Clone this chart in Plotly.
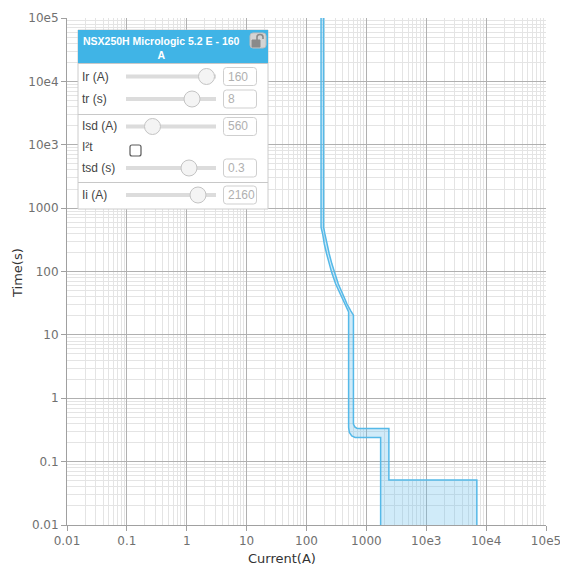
import plotly.graph_objects as go

# trip curve: lower-left (min) and upper-right (max) bounds
min_current = [175, 175, 186, 198, 217, 240, 263, 307, 363, 435, 495, 505,
               505, 520, 570, 648, 1730, 1730]
min_time = [1e6, 500, 391, 272, 189, 131, 97, 63.5, 44.2, 30.7, 24.0, 23.0,
            0.346, 0.288, 0.255, 0.24, 0.24, 0.01]

max_current = [193, 193, 203, 219, 240, 266, 291, 340, 403, 475, 549, 584, 608,
               608, 641, 692, 765, 2376, 2376, 70000, 70000]
max_time = [1e6, 500, 391, 272, 189, 131, 97, 63.5, 44.2, 30.7, 24.0, 21.3, 20.5,
            0.39, 0.353, 0.337, 0.333, 0.333, 0.0514, 0.0514, 0.01]

decades = [-2, -1, 0, 1, 2, 3, 4, 5, 6]
tick_labels = ["0.01", "0.1", "1", "10", "100", "1000", "10e3", "10e4", "10e5"]

panel_title = "NSX250H Micrologic 5.2 E - 160<br>A"
setting_names = ["Ir (A)", "tr (s)", "Isd (A)", "tsd (s)", "Ii (A)"]
setting_values = ["160", "8", "560", "0.3", "2160"]

# page has an 8px body margin, so everything is drawn 8px in from the corner
OFF = 8
# plot area in window pixels
L, T, W, H = 67, 18, 479, 507
LINE = "rgb(85,185,232)"
FILL = "rgba(100,190,235,0.3)"


def px(x):
    return (x - L) / W


def py(y):
    return (T + H - y) / H


tickvals = [10 ** d for d in decades]
minor_vals = [k * 10 ** d for d in decades[:-1] for k in range(2, 10)]

fig = go.Figure()
fig.add_trace(go.Scatter(
    x=min_current + max_current[::-1], y=min_time + max_time[::-1],
    fill="toself", fillcolor=FILL, line=dict(width=0),
    mode="lines", hoverinfo="skip", showlegend=False))
fig.add_trace(go.Scatter(x=min_current, y=min_time, mode="lines",
                         line=dict(color=LINE, width=1.5), showlegend=False))
fig.add_trace(go.Scatter(x=max_current, y=max_time, mode="lines",
                         line=dict(color=LINE, width=1.5), showlegend=False))

axis_style = dict(
    type="log", range=[-2, 6], tickmode="array", tickvals=tickvals, ticktext=tick_labels,
    showgrid=True, gridcolor="#b0b0b0", gridwidth=1,
    showline=True, linecolor="#a0a0a0", linewidth=1,
    ticks="outside", ticklen=5, tickcolor="#a0a0a0",
    tickfont=dict(family="DejaVu Sans", size=12, color="#707070"),
    minor=dict(tickmode="array", tickvals=minor_vals, showgrid=True,
               gridcolor="#e4e4e4", gridwidth=1, ticks=""),
    zeroline=False, automargin=False,
)
fig.update_xaxes(**axis_style)
fig.update_yaxes(**axis_style)

shapes = []
annotations = []


def rect(x0, y0, x1, y1, fill, line="rgba(0,0,0,0)", lw=1, r=0):
    if r == 0:
        shapes.append(dict(type="rect", xref="paper", yref="paper",
                           x0=px(x0), x1=px(x1), y0=py(y1), y1=py(y0),
                           fillcolor=fill, line=dict(color=line, width=lw), layer="above"))
        return
    # rounded rect as path in paper coords
    rx, ry = r / W, r / H
    a, b, c, d = px(x0), px(x1), py(y1), py(y0)
    path = (f"M {a+rx},{c} L {b-rx},{c} Q {b},{c} {b},{c+ry} L {b},{d-ry} "
            f"Q {b},{d} {b-rx},{d} L {a+rx},{d} Q {a},{d} {a},{d-ry} "
            f"L {a},{c+ry} Q {a},{c} {a+rx},{c} Z")
    shapes.append(dict(type="path", xref="paper", yref="paper", path=path,
                       fillcolor=fill, line=dict(color=line, width=lw), layer="above"))


def hline(x0, x1, y, color, lw):
    shapes.append(dict(type="line", xref="paper", yref="paper",
                       x0=px(x0), x1=px(x1), y0=py(y), y1=py(y),
                       line=dict(color=color, width=lw), layer="above"))


def text(x, y, s, size=12, color="#444", anchor="left"):
    annotations.append(dict(xref="paper", yref="paper", x=px(x), y=py(y), text=s,
                            showarrow=False, xanchor=anchor, yanchor="middle",
                            font=dict(family="Liberation Sans, Arial", size=size, color=color)))


# settings panel
rect(78, 30, 268, 209, "white", "#cccccc", 1)
rect(78, 30, 268, 63, "rgb(64,180,230)")
annotations.append(dict(xref="paper", yref="paper", x=px(161), y=py(48.5),
                        text="<b>" + panel_title + "</b>", showarrow=False,
                        xanchor="center", yanchor="middle", align="center",
                        font=dict(family="Liberation Sans, Arial", size=10.5, color="white")))
# lock icon
rect(250, 33, 266, 48, "#d4d4d4", "#bdbdbd", 1, r=3)
rect(252, 40, 260, 47, "#8a8a8a", "#8a8a8a", 1)
shapes.append(dict(type="path", xref="paper", yref="paper",
                   path=f"M {px(257)},{py(40)} L {px(257)},{py(37)} Q {px(257)},{py(34.5)} "
                        f"{px(260)},{py(34.5)} Q {px(263)},{py(34.5)} {px(263)},{py(37)} L {px(263)},{py(39)}",
                   line=dict(color="#8a8a8a", width=1.6), layer="above"))

hline(78, 268, 63.5, "#c8c8c8", 1)
hline(78, 268, 114.5, "#c8c8c8", 1)
hline(78, 268, 182.5, "#c8c8c8", 1)

rows_y = [76.5, 99, 126.5, 168, 195]
thumbs_x = [206.5, 192, 152.5, 189, 198]
for name, val, yy, tx in zip(setting_names, setting_values, rows_y, thumbs_x):
    text(80, yy, name)
    hline(126, 216, yy, "#dcdcdc", 4)
    shapes.append(dict(type="circle", xref="paper", yref="paper",
                       x0=px(tx - 8), x1=px(tx + 8), y0=py(yy + 8), y1=py(yy - 8),
                       fillcolor="#f4f4f4", line=dict(color="#c4c4c4", width=1), layer="above"))
    rect(223.5, yy - 9, 256.5, yy + 9, "white", "#cfcfcf", 1, r=3)
    text(226, yy, val, color="#b0b0b0")

text(80, 147, "I²t")
rect(130, 145, 141, 156, "white", "#5a5a5a", 1.2, r=2)

# axis titles
annotations.append(dict(xref="paper", yref="paper", x=px(282), y=py(558), text="Current(A)",
                        showarrow=False, xanchor="center", yanchor="middle",
                        font=dict(family="DejaVu Sans", size=13, color="#333")))
annotations.append(dict(xref="paper", yref="paper", x=px(17), y=py(273), text="Time(s)",
                        showarrow=False, xanchor="center", yanchor="middle", textangle=-90,
                        font=dict(family="DejaVu Sans", size=13, color="#333")))

fig.update_layout(
    width=568 - OFF, height=571 - OFF,
    margin=dict(l=L - OFF, r=568 - L - W, t=T - OFF, b=571 - T - H, pad=0),
    paper_bgcolor="white", plot_bgcolor="white",
    shapes=shapes, annotations=annotations, showlegend=False,
)

fig.write_html("out.html")
